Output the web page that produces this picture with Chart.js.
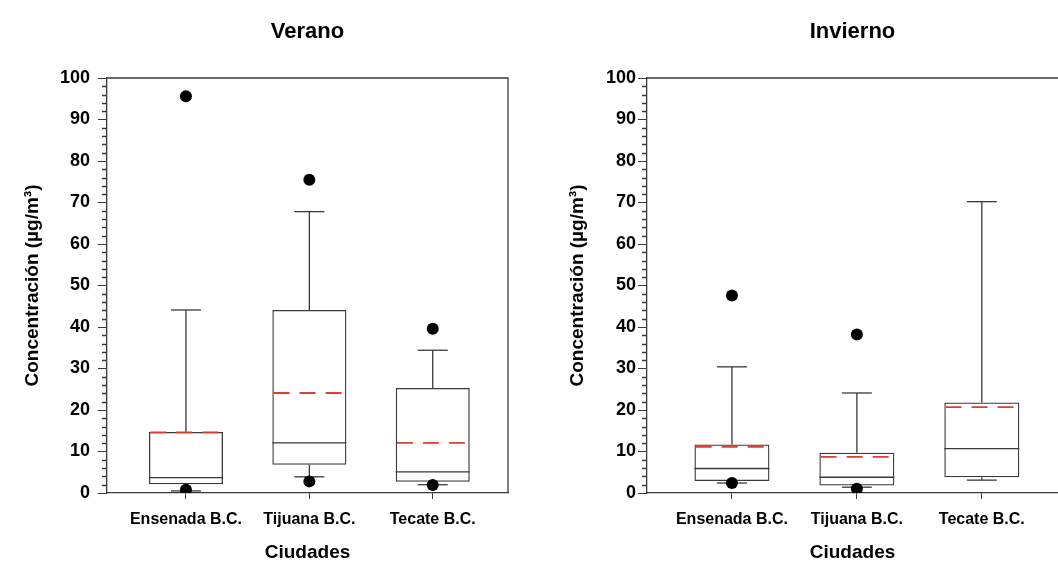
<!DOCTYPE html>
<html lang="es">
<head>
    <meta charset="UTF-8">
    <title>Concentración por ciudad</title>
    <style>
        * {
            margin: 0;
            padding: 0;
            box-sizing: border-box;
        }

        body {
            background-color: #fff;
            width: 1058px;
            height: 561px;
            overflow: hidden;
        }

        .panel {
            position: absolute;
            top: 0;
            height: 561px;
        }

        #panelVerano {
            left: 0;
            width: 530px;
        }

        #panelInvierno {
            left: 530px;
            width: 528px;
        }
    </style>
</head>
<body>

    <div class="panel" id="panelVerano"><canvas id="chartVerano"></canvas></div>
    <div class="panel" id="panelInvierno"><canvas id="chartInvierno"></canvas></div>

    <script src="https://cdn.jsdelivr.net/npm/chart.js"></script>
    <script>
        const cities = ['Ensenada B.C.', 'Tijuana B.C.', 'Tecate B.C.'];

        // Verano
        const veranoQ1 = [2.1, 6.8, 2.7];
        const veranoQ3 = [14.7, 44.1, 25.3];
        const veranoMedian = [3.7, 12.1, 5.1];
        const veranoMean = [14.6, 24.1, 12.1];
        const veranoLow = [0.5, 3.9, 2.0];
        const veranoHigh = [44.1, 67.8, 34.4];
        const veranoOutliers = [[95.6, 0.8], [75.5, 2.8], [39.6, 1.9]];

        // Invierno
        const inviernoQ1 = [2.9, 1.8, 3.8];
        const inviernoQ3 = [11.7, 9.7, 21.8];
        const inviernoMedian = [5.9, 3.8, 10.7];
        const inviernoMean = [11.1, 8.7, 20.7];
        const inviernoLow = [2.4, 1.4, 3.1];
        const inviernoHigh = [30.4, 24.1, 70.2];
        const inviernoOutliers = [[47.6, 2.4], [38.2, 1.0], []];

        const yMin = 0;
        const yMax = 100;
        const yStep = 10;
        const yMinorStep = 2;

        const FONT = "'Liberation Sans', Arial, Helvetica, sans-serif";
        const LINE = '#3a3a3a';
        const RED = '#d9402f';
        const HALF_BOX = 0.3; // mitad del ancho de la caja, en unidades del eje x

        // marco superior/derecho y marcas menores del eje y
        const framePlugin = {
            id: 'frame',
            afterDraw(chart, args, opts) {
                const { ctx, chartArea: a, scales: { y } } = chart;
                ctx.save();
                ctx.strokeStyle = LINE;
                ctx.lineWidth = 1.3;
                ctx.beginPath();
                ctx.moveTo(a.left, a.top);
                ctx.lineTo(a.right, a.top);
                if (opts.right) ctx.lineTo(a.right, a.bottom);
                for (let v = yMin; v <= yMax; v += yMinorStep) {
                    if (v % yStep === 0) continue;
                    const py = Math.round(y.getPixelForValue(v)) + 0.5;
                    ctx.moveTo(a.left - 5, py);
                    ctx.lineTo(a.left, py);
                }
                ctx.stroke();
                ctx.restore();
            }
        };

        function segments(values, half) {
            return values.flatMap((v, i) => [
                { x: i + 1 - half, y: v },
                { x: i + 1 + half, y: v },
                { x: i + 1.5, y: null }
            ]);
        }

        function makeChart(id, title, s, layout) {
            const ctx = document.getElementById(id).getContext('2d');
            return new Chart(ctx, {
                type: 'bar',
                data: {
                    datasets: [
                        {
                            type: 'scatter',
                            data: s.outliers.flatMap((vals, i) => vals.map(v => ({ x: i + 1, y: v }))),
                            pointRadius: 6,
                            backgroundColor: '#000',
                            borderWidth: 0
                        },
                        {
                            type: 'line',
                            data: segments(s.mean, HALF_BOX - 0.01),
                            borderColor: RED,
                            borderWidth: 1.8,
                            borderDash: [16, 10],
                            pointRadius: 0,
                            spanGaps: false
                        },
                        {
                            type: 'line',
                            data: segments(s.median, HALF_BOX),
                            borderColor: LINE,
                            borderWidth: 1.3,
                            pointRadius: 0,
                            spanGaps: false
                        },
                        {
                            type: 'scatter',
                            data: cities.flatMap((c, i) => [{ x: i + 1, y: s.high[i] }, { x: i + 1, y: s.low[i] }]),
                            pointStyle: 'line',
                            pointRadius: 15,
                            borderColor: LINE,
                            borderWidth: 1.3
                        },
                        {
                            type: 'line',
                            data: cities.flatMap((c, i) => [
                                { x: i + 1, y: s.q3[i] }, { x: i + 1, y: s.high[i] }, { x: i + 1, y: null },
                                { x: i + 1, y: s.low[i] }, { x: i + 1, y: s.q1[i] }, { x: i + 1, y: null }
                            ]),
                            borderColor: LINE,
                            borderWidth: 1.3,
                            pointRadius: 0,
                            spanGaps: false
                        },
                        {
                            type: 'bar',
                            data: cities.map((c, i) => ({ x: i + 1, y: [s.q1[i], s.q3[i]] })),
                            backgroundColor: 'rgba(255,255,255,0)',
                            borderColor: LINE,
                            borderWidth: 1.3,
                            borderSkipped: false,
                            barPercentage: 2 * HALF_BOX,
                            categoryPercentage: 1,
                            grouped: false
                        }
                    ]
                },
                options: {
                    responsive: true,
                    maintainAspectRatio: false,
                    animation: false,
                    events: [],
                    layout: { autoPadding: false, padding: { left: 0, right: layout.right, top: 0, bottom: 0 } },
                    plugins: {
                        legend: { display: false },
                        tooltip: { enabled: false },
                        title: {
                            display: true,
                            text: title,
                            fullSize: false,
                            color: '#000',
                            font: { family: FONT, size: 22, weight: 'bold' },
                            padding: { top: 19, bottom: 32.6 }
                        },
                        frame: { right: layout.frameRight }
                    },
                    scales: {
                        x: {
                            type: 'linear',
                            min: layout.xMin,
                            max: layout.xMax,
                            offset: false,
                            afterBuildTicks: scale => {
                                scale.ticks = cities.map((c, i) => ({ value: i + 1 }));
                            },
                            afterFit: scale => {
                                scale.height = 68;
                                scale.paddingLeft = 0;
                                scale.paddingRight = 0;
                            },
                            ticks: {
                                callback: v => cities[v - 1] || '',
                                color: '#000',
                                font: { family: FONT, size: 16, weight: 'bold' },
                                padding: 11,
                                maxRotation: 0,
                                autoSkip: false
                            },
                            grid: { drawOnChartArea: false, tickLength: 6, color: LINE, offset: false },
                            border: { color: LINE, width: 1.3 },
                            title: {
                                display: true,
                                text: 'Ciudades',
                                color: '#000',
                                font: { family: FONT, size: 19, weight: 'bold' },
                                padding: { top: 0, bottom: -3 }
                            }
                        },
                        y: {
                            min: yMin,
                            max: yMax,
                            afterFit: scale => { scale.width = layout.yWidth; },
                            ticks: {
                                stepSize: yStep,
                                color: '#000',
                                font: { family: FONT, size: 18, weight: 'bold' },
                                padding: layout.tickPad
                            },
                            grid: { drawOnChartArea: false, tickLength: 9, color: LINE },
                            border: { color: LINE, width: 1.3 },
                            title: {
                                display: true,
                                text: 'Concentración (µg/m³)',
                                color: '#000',
                                font: { family: FONT, size: 19, weight: 'bold' },
                                padding: { top: layout.titlePad, bottom: 0 }
                            }
                        }
                    }
                },
                plugins: [framePlugin]
            });
        }

        makeChart('chartVerano', 'Verano', {
            q1: veranoQ1, q3: veranoQ3, median: veranoMedian, mean: veranoMean,
            low: veranoLow, high: veranoHigh, outliers: veranoOutliers
        }, { right: 22, yWidth: 107, tickPad: 8, titlePad: 21, xMin: 0.36, xMax: 3.61, frameRight: true });

        makeChart('chartInvierno', 'Invierno', {
            q1: inviernoQ1, q3: inviernoQ3, median: inviernoMedian, mean: inviernoMean,
            low: inviernoLow, high: inviernoHigh, outliers: inviernoOutliers
        }, { right: 0, yWidth: 117, tickPad: 2, titlePad: 36, xMin: 0.32, xMax: 3.61, frameRight: false });
    </script>
</body>
</html>
